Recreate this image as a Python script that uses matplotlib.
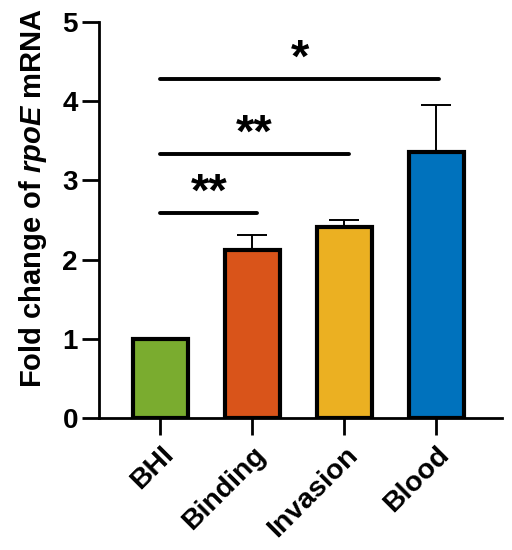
import numpy as np
import matplotlib
matplotlib.use('Agg')
import matplotlib.pyplot as plt

plt.rcParams['font.family'] = ['Liberation Sans', 'DejaVu Sans']
plt.rcParams['mathtext.fontset'] = 'custom'
plt.rcParams['mathtext.it'] = 'Liberation Sans:italic:bold'
plt.rcParams['mathtext.rm'] = 'Liberation Sans:bold'
plt.rcParams['mathtext.bf'] = 'Liberation Sans:bold'

# data
groups = ['BHI', 'Binding', 'Invasion', 'Blood']
means = [1.0, 2.12, 2.41, 3.36]
errs = [0.0, 0.19, 0.09, 0.59]
colors = ['#7aac2f', '#d9541a', '#ebb022', '#0072bd']

# significance brackets
sig_start = [0, 0, 0]
sig_end = [1.05, 2.05, 3.03]
sig_y = [2.59, 3.33, 4.28]
sig_text = ['**', '**', '*']

fig = plt.figure(figsize=(5.12, 5.5), dpi=100)
ax = fig.add_axes([0.193, 0.24, 0.787, 0.72])

x = np.arange(len(groups))
ax.bar(x, means, width=0.6, color=colors, edgecolor='black', linewidth=3.0, zorder=2)
ax.errorbar(x[1:], means[1:], yerr=[np.zeros(3), errs[1:]], fmt='none',
            ecolor='black', elinewidth=1.4, capsize=11, capthick=1.4, zorder=1)

for s, e, h, t in zip(sig_start, sig_end, sig_y, sig_text):
    ax.plot([s, e], [h, h], color='black', lw=2.8, solid_capstyle='round')
    ax.text((s + e) / 2, h - 0.03, t, ha='center', va='bottom', fontsize=34,
            fontweight='bold')

ax.set_xlim(-0.67, 3.71)
ax.set_ylim(0, 5)
ax.set_yticks([0, 1, 2, 3, 4, 5])
ax.set_xticks(x)
ax.set_xticklabels(groups, rotation=45, ha='right', rotation_mode='anchor',
                   fontsize=20.5, fontweight='bold')
for lab in ax.get_yticklabels():
    lab.set_fontsize(20)
    lab.set_fontweight('bold')

ax.spines['top'].set_visible(False)
ax.spines['right'].set_visible(False)
for sp in ['left', 'bottom']:
    ax.spines[sp].set_linewidth(2.0)
ax.tick_params(axis='both', width=2.0, length=12)
ax.tick_params(axis='y', pad=3)
ax.tick_params(axis='x', pad=5)

ax.set_ylabel(r'Fold change of $\it{rpoE}$ mRNA', fontsize=21, fontweight='bold',
              labelpad=10, y=0.555)

fig.savefig('out.png', dpi=100)
